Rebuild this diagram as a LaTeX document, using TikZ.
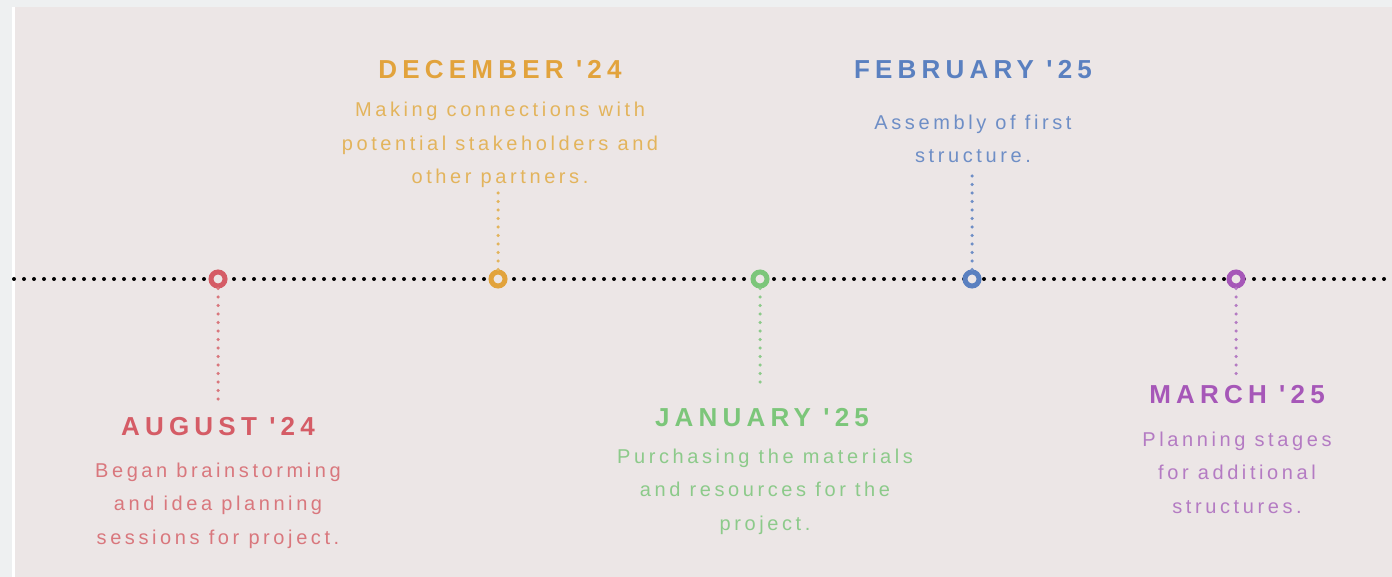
\documentclass[tikz,border=0pt]{standalone}
\usepackage{fontspec}
\setmainfont{Liberation Sans}
\newfontfamily\titlefont[LetterSpace=20]{Liberation Sans}
\newfontfamily\bodyfont[LetterSpace=18]{Liberation Sans}
\definecolor{outerbg}{HTML}{EEF0F1}
\definecolor{panel}{HTML}{ECE6E6}
\definecolor{augcol}{HTML}{D55C66}
\definecolor{augtxt}{HTML}{D9777D}
\definecolor{deccol}{HTML}{E2A33C}
\definecolor{dectxt}{HTML}{E3B45C}
\definecolor{jancol}{HTML}{7CC67A}
\definecolor{jantxt}{HTML}{8CCA8A}
\definecolor{febcol}{HTML}{5A80C0}
\definecolor{febtxt}{HTML}{6E8EC6}
\definecolor{marcol}{HTML}{A657B8}
\definecolor{martxt}{HTML}{B47BC3}
\begin{document}
\begin{tikzpicture}[x=1pt,y=-1pt,
  marker/.style={circle,draw=#1,fill=panel,line width=5pt,minimum size=14pt,inner sep=0pt},
  stem/.style={#1,line width=3.5pt,line cap=round,dash pattern=on 0pt off 8.5pt},
  title/.style={text=#1,font=\titlefont\bfseries\fontsize{26}{30}\selectfont,anchor=base,inner sep=0pt},
  body/.style={text=#1,font=\bodyfont\fontsize{20}{33.5}\selectfont,align=center,anchor=base,inner sep=0pt}]
% Hintergrund
\fill[outerbg] (0,0) rectangle (1392,577);
\fill[white] (12,7) rectangle (15,577);
\fill[panel] (15,7) rectangle (1392,577);
\useasboundingbox (0,0) rectangle (1392,577);
% Zeitachse
\coordinate (lstart) at (14,279);
\coordinate (lend) at (1392,279);
\draw[line width=4pt,line cap=round,dash pattern=on 0pt off 10pt] (lstart) -- (lend);
% August '24 (Textblock: Grundlinie der letzten Zeile)
\node[marker=augcol] (aug) at (218,279) {};
\coordinate (augend) at (218,404);
\draw[stem=augtxt] (aug) -- (augend);
\node[title=augcol] (augtitle) at (218,435) {AUGUST '24};
\node[body=augtxt] (augbody) at (218,544) {Began brainstorming\\and idea planning\\sessions for project.};
% December '24
\node[marker=deccol] (dec) at (498,279) {};
\coordinate (decend) at (498,192);
\draw[stem=dectxt] (dec) -- (decend);
\node[title=deccol] (dectitle) at (500,79) {DECEMBER '24};
\node[body=dectxt] (decbody) at (500,184) {Making connections with\\potential stakeholders and\\other partners.};
% January '25
\node[marker=jancol] (jan) at (760,279) {};
\coordinate (janend) at (760,386);
\draw[stem=jantxt] (jan) -- (janend);
\node[title=jancol] (jantitle) at (762,426) {JANUARY '25};
\node[body=jantxt] (janbody) at (765,530) {Purchasing the materials\\and resources for the\\project.};
% February '25
\node[marker=febcol] (feb) at (972,279) {};
\coordinate (febend) at (972,172);
\draw[stem=febtxt] (feb) -- (febend);
\node[title=febcol] (febtitle) at (973,79) {FEBRUARY '25};
\node[body=febtxt] (febbody) at (973,163) {Assembly of first\\structure.};
% March '25
\node[marker=marcol] (mar) at (1236,279) {};
\coordinate (marend) at (1236,376);
\draw[stem=martxt] (mar) -- (marend);
\node[title=marcol] (martitle) at (1237,403) {MARCH '25};
\node[body=martxt] (marbody) at (1237,513) {Planning stages\\for additional\\structures.};
\end{tikzpicture}
\end{document}
